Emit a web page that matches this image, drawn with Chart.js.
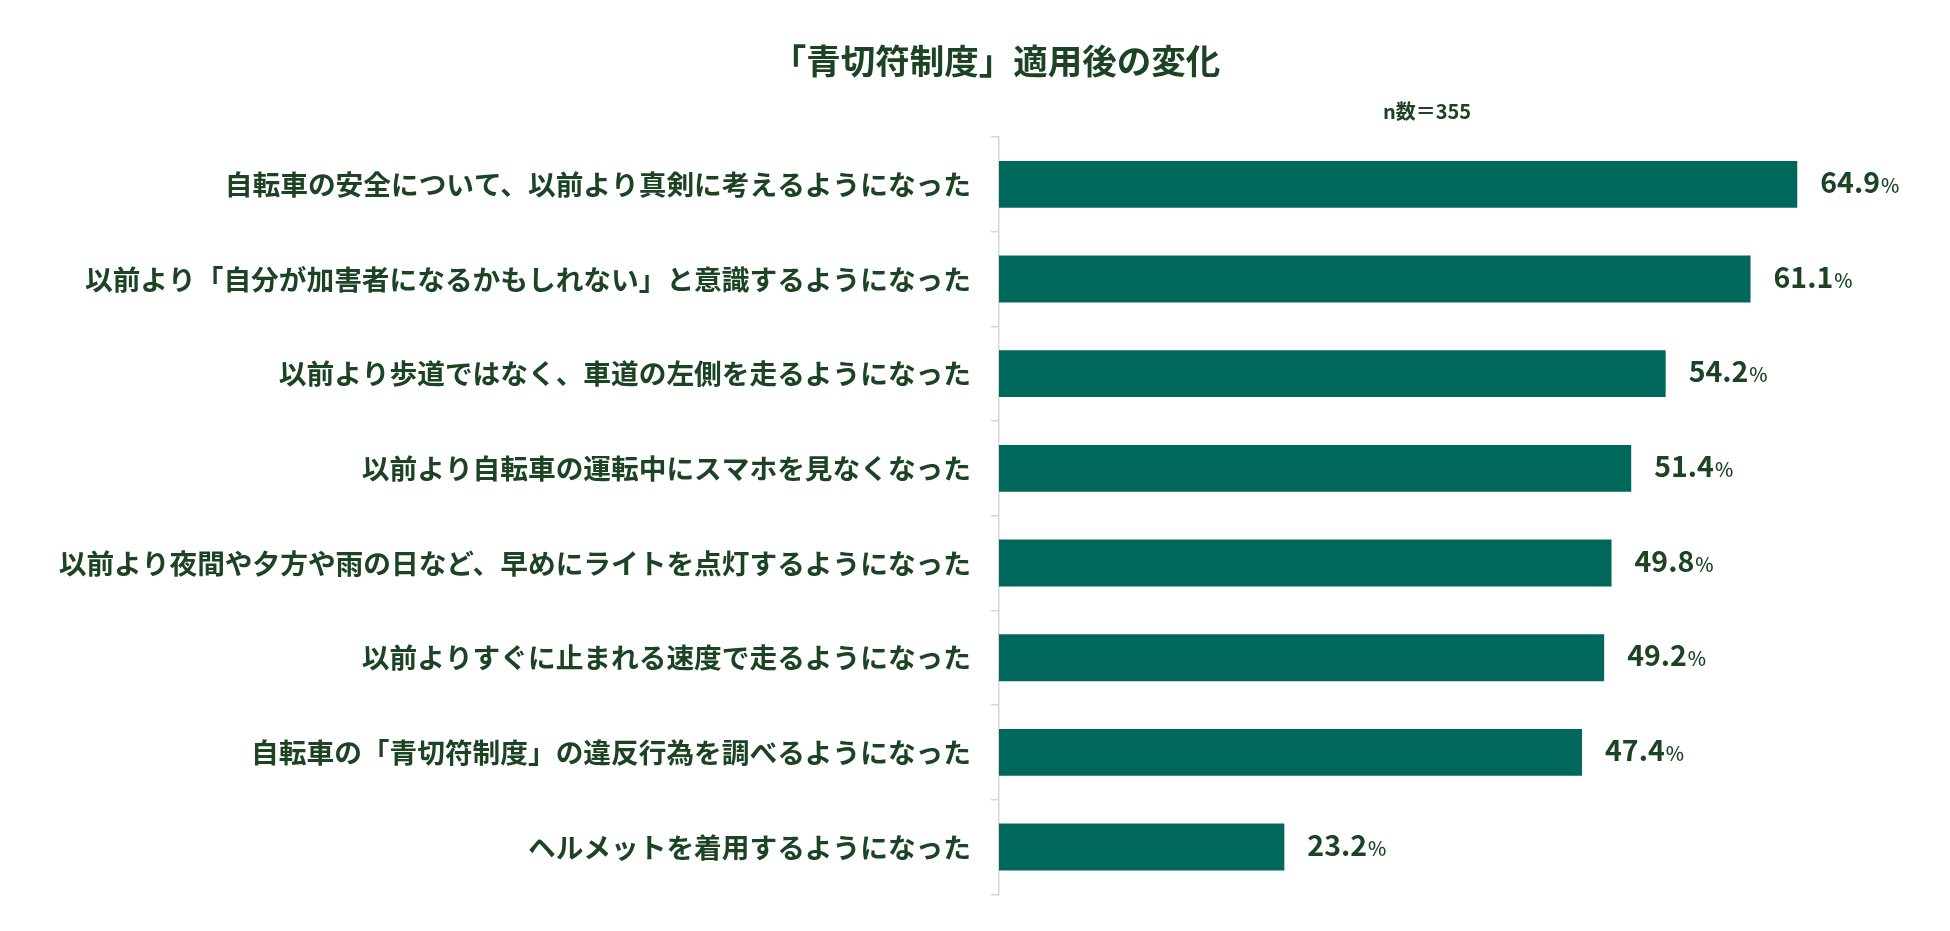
<!DOCTYPE html>
<html lang="ja">
<head>
<meta charset="utf-8">
<script src="https://cdn.jsdelivr.net/npm/chart.js@4.4.1/dist/chart.umd.min.js"></script>
<style>
  html, body { margin: 0; padding: 0; background: #ffffff; }
  canvas { display: block; }
</style>
</head>
<body>
<canvas id="c" width="1950" height="931" style="width:1950px;height:931px"></canvas>
<script>
const chartTitle = "「青切符制度」適用後の変化";
const sampleNote = "n数＝355";
const categories = [
  "自転車の安全について、以前より真剣に考えるようになった",
  "以前より「自分が加害者になるかもしれない」と意識するようになった",
  "以前より歩道ではなく、車道の左側を走るようになった",
  "以前より自転車の運転中にスマホを見なくなった",
  "以前より夜間や夕方や雨の日など、早めにライトを点灯するようになった",
  "以前よりすぐに止まれる速度で走るようになった",
  "自転車の「青切符制度」の違反行為を調べるようになった",
  "ヘルメットを着用するようになった"
];
const values = [64.9, 61.1, 54.2, 51.4, 49.8, 49.2, 47.4, 23.2];
const xRange = [0, 75];

const TEXT = "#1c4424";
const BAR = "#00685a";
const AXIS = "#d6d6d6";
const FONT = "'Noto Sans CJK JP', 'Noto Sans', sans-serif";

const overlay = {
  id: 'overlay',
  afterDraw(chart) {
    const ctx = chart.ctx;
    ctx.save();
    ctx.fillStyle = TEXT;
    // title
    ctx.font = "bold 34.5px " + FONT;
    ctx.textAlign = "center";
    ctx.textBaseline = "middle";
    ctx.fillText(chartTitle, 996, 61);
    // sample size
    ctx.font = "bold 20px " + FONT;
    ctx.fillText(sampleNote, 1427, 111);
    // data labels
    const meta = chart.getDatasetMeta(0);
    ctx.textAlign = "left";
    ctx.textBaseline = "alphabetic";
    meta.data.forEach((bar, i) => {
      const num = values[i].toFixed(1);
      const x = bar.x + 23;
      const y = bar.y + 8.5;
      ctx.font = "bold 28.5px " + FONT;
      ctx.fillText(num, x, y);
      const w = ctx.measureText(num).width;
      ctx.font = "500 19.5px " + FONT;
      ctx.fillText("%", x + w + 1, y);
    });
    ctx.restore();
  }
};

new Chart(document.getElementById('c'), {
  type: 'bar',
  data: {
    labels: categories,
    datasets: [{
      data: values,
      backgroundColor: BAR,
      borderWidth: 0,
      barPercentage: 0.495,
      categoryPercentage: 1.0
    }]
  },
  options: {
    indexAxis: 'y',
    responsive: false,
    animation: false,
    devicePixelRatio: 1,
    layout: { padding: { left: 0, right: 28.5, top: 137, bottom: 32 } },
    plugins: {
      legend: { display: false },
      tooltip: { enabled: false },
      title: { display: false }
    },
    scales: {
      x: {
        display: false,
        min: xRange[0],
        max: xRange[1]
      },
      y: {
        afterFit(scale) { scale.width = 999; },
        ticks: {
          color: TEXT,
          font: { family: FONT, size: 27.7, weight: 'bold' },
          padding: 20,
          autoSkip: false
        },
        grid: {
          display: true,
          drawOnChartArea: false,
          drawTicks: true,
          tickLength: 8,
          color: AXIS,
          lineWidth: 1.5,
          offset: true
        },
        border: { display: true, color: AXIS, width: 1.5 }
      }
    }
  },
  plugins: [overlay]
});
</script>
</body>
</html>
